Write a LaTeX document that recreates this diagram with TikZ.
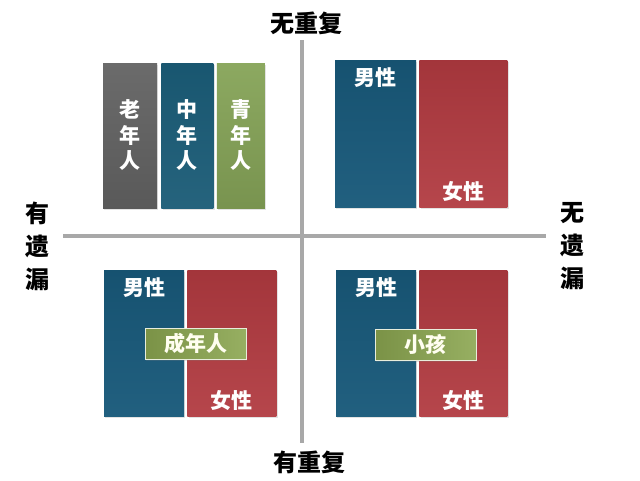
\documentclass[tikz,border=0pt]{standalone}
\usepackage{fontspec}
\newfontfamily\cjk{Noto Sans CJK SC}
\usetikzlibrary{positioning,shadows}

\definecolor{oldgrey}{HTML}{5E5E5E}
\definecolor{midteal}{HTML}{1A5B76}
\definecolor{younggreen}{HTML}{86A458}
\definecolor{maleblue}{HTML}{18597A}
\definecolor{femalered}{HTML}{B13A40}
\definecolor{bargreen}{HTML}{8BA650}
\definecolor{axisgrey}{HTML}{A8A8A8}

\begin{document}
\begin{tikzpicture}[
  x=1pt, y=-1pt,
  panel/.style={rectangle, inner sep=0pt, draw=none,
    drop shadow={opacity=0.22, shadow xshift=1.2pt, shadow yshift=-1.5pt}},
  oldbox/.style={panel, top color=oldgrey!92!white, bottom color=oldgrey!95!black},
  midbox/.style={panel, top color=midteal!95!black, bottom color=midteal!95!white},
  youngbox/.style={panel, top color=younggreen!95!white, bottom color=younggreen!90!black},
  malebox/.style={panel, top color=maleblue!92!black, bottom color=maleblue!96!white},
  femalebox/.style={panel, top color=femalered!92!black, bottom color=femalered!94!white},
  groupbar/.style={panel, left color=bargreen!88!black, right color=bargreen!90!white,
    draw=white!80!bargreen, line width=0.8pt, minimum width=101pt, minimum height=31pt,
    text=white!94!yellow, font=\cjk\bfseries\fontsize{21}{24}\selectfont},
  boxtext/.style={inner sep=0pt, text=white, font=\cjk\bfseries\fontsize{21}{24}\selectfont},
  vertext/.style={text=white, align=center, font=\cjk\bfseries\fontsize{21}{25.5}\selectfont},
  axislabel/.style={inner sep=0pt, text=black, align=center,
    font=\cjk\bfseries\fontsize{24}{33}\selectfont},
  axisline/.style={draw=axisgrey, line width=3.5pt}
]
\useasboundingbox (0,0) rectangle (640,480);

%Axes
\coordinate (vtop) at (302,40);
\coordinate (vbot) at (302,443);
\coordinate (hleft) at (63,236);
\coordinate (hright) at (546,236);
\draw[axisline] (vtop) -- (vbot);
\draw[axisline] (hleft) -- (hright);

\node[axislabel] (norepeat) at (306,23) {无重复};
\node[axislabel] (repeat) at (309,462) {有重复};
\node[axislabel] (missing) at (37,246) {有\\遗\\漏};
\node[axislabel] (nomissing) at (572,246) {无\\遗\\漏};

%Top left: by age
\node[oldbox, vertext, minimum width=54pt, minimum height=145pt] (old) at (130,135.5) {老\\年\\人};
\node[midbox, vertext, minimum width=52pt, minimum height=145pt, right=4pt of old] (mid) {中\\年\\人};
\node[youngbox, vertext, minimum width=48pt, minimum height=145pt, right=3pt of mid] (young) {青\\年\\人};

%Top right: by sex
\node[malebox, minimum width=81pt, minimum height=147pt] (trm) at (375.5,133.5) {};
\node[femalebox, minimum width=88pt, minimum height=147pt, right=3pt of trm] (trf) {};
\node[boxtext, below=8pt of trm.north] (trm-t) {男性};
\node[boxtext, above=5pt of trf.south] (trf-t) {女性};

%Bottom left: sex plus adults
\node[malebox, minimum width=80pt, minimum height=146pt] (blm) at (144,343) {};
\node[femalebox, minimum width=89pt, minimum height=146pt, right=3pt of blm] (blf) {};
\node[boxtext, below=8pt of blm.north] (blm-t) {男性};
\node[boxtext, above=5pt of blf.south] (blf-t) {女性};
\node[groupbar] (adult) at (195.5,343.5) {成年人};

%Bottom right: sex plus children
\node[malebox, minimum width=80pt, minimum height=146pt] (brm) at (376,343) {};
\node[femalebox, minimum width=88pt, minimum height=146pt, right=3pt of brm] (brf) {};
\node[boxtext, below=8pt of brm.north] (brm-t) {男性};
\node[boxtext, above=5pt of brf.south] (brf-t) {女性};
\node[groupbar] (child) at (425.5,344.5) {小孩};
\end{tikzpicture}
\end{document}
